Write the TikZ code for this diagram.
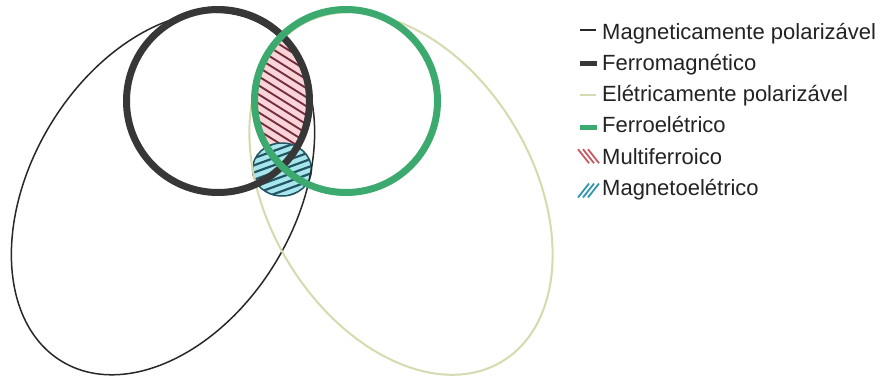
\documentclass[tikz,border=0pt]{standalone}
\usepackage{fontspec}
\setmainfont{Liberation Sans}
\usetikzlibrary{calc}
\definecolor{mpol}{RGB}{40,40,40}
\definecolor{ferrom}{RGB}{55,55,55}
\definecolor{epol}{RGB}{214,218,174}
\definecolor{ferroe}{RGB}{60,170,110}
\definecolor{pinkfill}{RGB}{250,212,216}
\definecolor{pinkline}{RGB}{115,48,60}
\definecolor{bluefill}{RGB}{168,230,238}
\definecolor{blueline}{RGB}{35,85,100}
\definecolor{txt}{RGB}{35,35,35}
\definecolor{iconred}{RGB}{200,90,100}
\definecolor{iconteal}{RGB}{50,150,175}
\begin{document}
\begin{tikzpicture}[x=1pt,y=-1pt,
  legtext/.style={anchor=base west, inner sep=0pt, font=\fontsize{22}{26}\selectfont, text=txt},
  thinset/.style={line width=1.5},
  thickset/.style={line width=7},
]
\useasboundingbox (0,0) rectangle (884,381);
\fill[white] (0,0) rectangle (884,381);

\coordinate (cfm) at (218,101);
\coordinate (cfe) at (346,101);
\coordinate (cme) at (282,169.5);
\coordinate (cmp) at (163,193.5);
\coordinate (cep) at (401,193.5);

% multiferroic lens
\begin{scope}
  \clip (cfm) circle (91.5);
  \clip (cfe) circle (91.5);
  \fill[pinkfill] (240,0) rectangle (330,200);
  \foreach \k in {-12,...,12}
    \draw[pinkline, line width=1.9] ($(282,100)+(\k*14.4,0)+(-96,-60)$) -- ++(192,120);
\end{scope}

% magnetoelectric
\begin{scope}
  \clip (cme) ellipse [x radius=29.5, y radius=26.5];
  \fill[bluefill] (cme) ellipse [x radius=29.5, y radius=26.5];
  \foreach \k in {-6,...,6}
    \draw[blueline, line width=2.2] ($(cme)+(0,\k*7.2)+(-45,16.4)$) -- ++(90,-32.8);
\end{scope}
\draw[blueline, line width=1.5] (cme) ellipse [x radius=29.5, y radius=26.5];

% polarizable sets
\draw[mpol, thinset, rotate around={59:(cmp)}] (cmp) ellipse [x radius=196, y radius=132];
\draw[epol, line width=2, rotate around={-59:(cep)}] (cep) ellipse [x radius=196, y radius=132];

% ferroic sets
\draw[ferrom, thickset] (cfm) circle (91.5);
\draw[ferroe, thickset] (cfe) circle (91.5);

% legend
\node[legtext] (l1) at (602,39)    {Magneticamente polarizável};
\node[legtext] (l2) at (602,70.3)  {Ferromagnético};
\node[legtext] (l3) at (602,101.6) {Elétricamente polarizável};
\node[legtext] (l4) at (602,132.9) {Ferroelétrico};
\node[legtext] (l5) at (602,164.2) {Multiferroico};
\node[legtext] (l6) at (602,195.5) {Magnetoelétrico};

\draw[mpol, thinset] ($(l1.base west)+(-22,-9)$) -- ++(16,0);
\draw[ferrom, line width=5] ($(l2.base west)+(-22,-7)$) -- ++(17,0);
\draw[epol, thinset] ($(l3.base west)+(-22,-6.5)$) -- ++(16,0);
\draw[ferroe, line width=5] ($(l4.base west)+(-22,-5)$) -- ++(17,0);
\foreach \o in {0,5,10}
  \draw[iconred, line width=1.8] ($(l5.base west)+(-24+\o,-15)$) -- ++(11,14);
\foreach \o in {0,5,10}
  \draw[iconteal, line width=1.8] ($(l6.base west)+(-24+\o,2)$) -- ++(11,-14);
\end{tikzpicture}
\end{document}
